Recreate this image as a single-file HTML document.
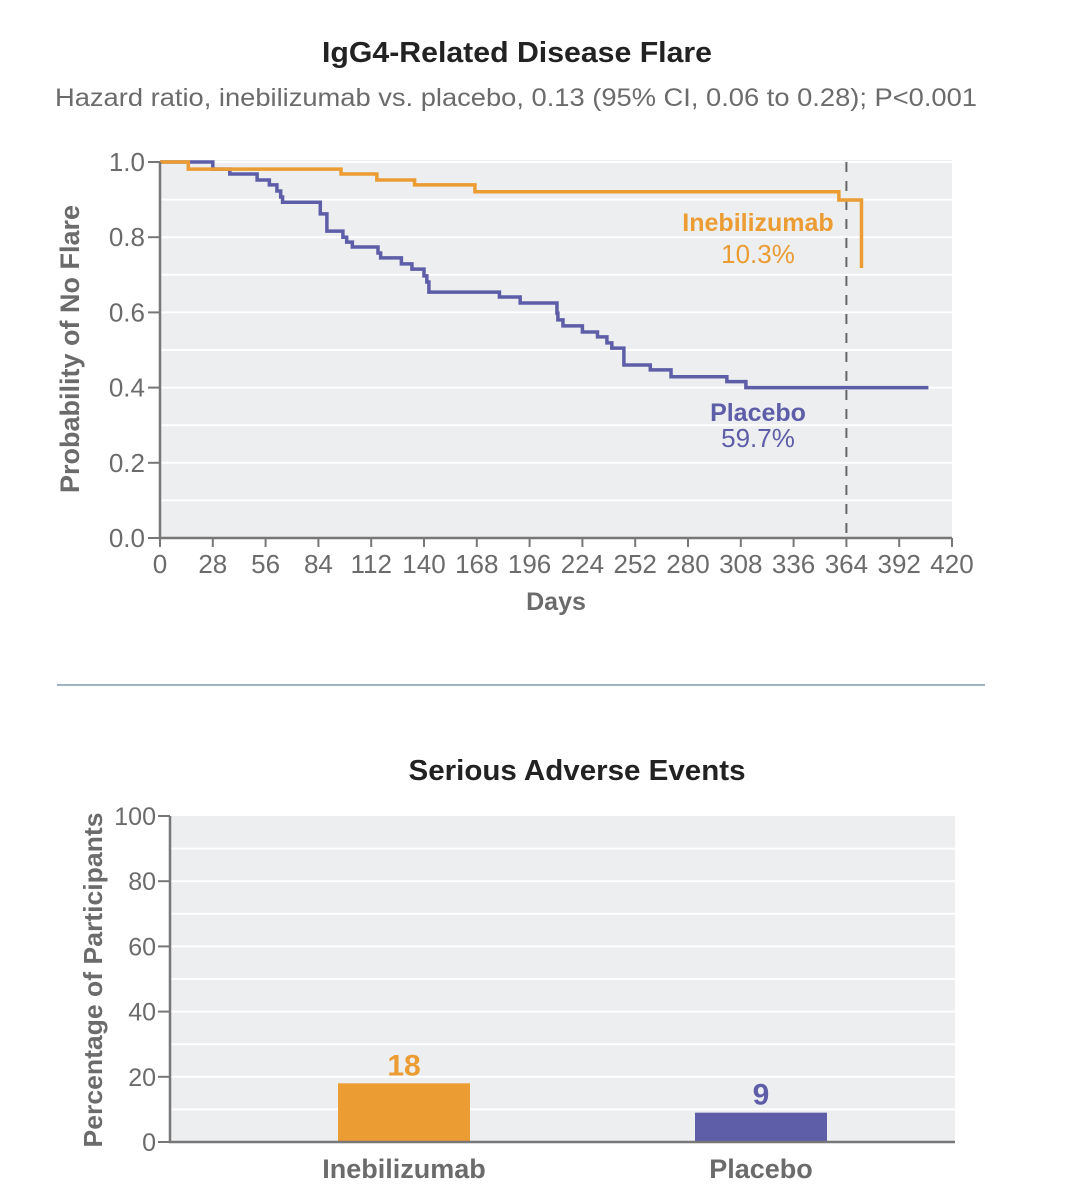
<!DOCTYPE html>
<html><head><meta charset="utf-8"><style>
html,body{margin:0;padding:0;background:#fff;}
svg{display:block;font-family:"Liberation Sans","DejaVu Sans",sans-serif;}
</style></head><body>
<svg id="s" width="1091" height="1200" viewBox="0 0 1091 1200">
<text x="517" y="62" text-anchor="middle" font-size="29" font-weight="bold" fill="#222" textLength="390" lengthAdjust="spacingAndGlyphs">IgG4-Related Disease Flare</text>
<text x="516" y="106" text-anchor="middle" font-size="25" fill="#6b6b6b" textLength="922" lengthAdjust="spacingAndGlyphs">Hazard ratio, inebilizumab vs. placebo, 0.13 (95% CI, 0.06 to 0.28); P&lt;0.001</text>
<g id="km"></g>
<line x1="57" y1="685" x2="985" y2="685" stroke="#9fb3c0" stroke-width="2"/>
<text x="577" y="780" text-anchor="middle" font-size="29" font-weight="bold" fill="#222" textLength="337" lengthAdjust="spacingAndGlyphs">Serious Adverse Events</text>
<g id="bar"></g>
</svg>
<script>
// ---- KM data ----
const xTicks = [0,28,56,84,112,140,168,196,224,252,280,308,336,364,392,420];
const yTicks = [0.0,0.2,0.4,0.6,0.8,1.0];
const inebDays = [0,15,96,115,135,167,360,372];
const inebSurv = [1.0,0.981,0.968,0.952,0.939,0.921,0.899,0.718];
const inebEnd = 372;
const placDays = [0,28,37,51.5,58,62,64,65,85,88.5,97,99,102,115.6,117,128,133.6,140,141.5,142.6,180,191,210.5,211,213.7,224,232,237,239.6,246,260,271,300.6,310.7];
const placSurv = [1.0,0.981,0.968,0.952,0.939,0.923,0.907,0.893,0.862,0.816,0.80,0.787,0.774,0.758,0.745,0.729,0.715,0.697,0.681,0.654,0.641,0.625,0.598,0.58,0.564,0.548,0.535,0.519,0.505,0.46,0.447,0.429,0.416,0.40];
const placEnd = 407.5;
const refDay = 364;
// ---- bar data ----
const barCats = ["Inebilizumab","Placebo"];
const barVals = [18,9];
const barTicks = [0,20,40,60,80,100];

const NS="http://www.w3.org/2000/svg";
function mk(tag,attrs,parent,txt){const e=document.createElementNS(NS,tag);for(const k in attrs)e.setAttribute(k,attrs[k]);if(txt!==undefined)e.textContent=txt;parent.appendChild(e);return e;}

const km=document.getElementById('km');
const X0=160,X1=952,Y0=538,Y1=162;
const xs=d=>X0+(d/420)*(X1-X0);
const ys=v=>Y0-v*(Y0-Y1);
let r=mk('rect',{x:X0,y:Y1-2,width:X1-X0,height:Y0-Y1+2,fill:'#edeef0'},km);


for(let v=0.1;v<1.0;v+=0.1){let g=mk('line',{x1:X0,x2:X1,y1:ys(v),y2:ys(v),stroke:'#fff','stroke-width':2},km);

}
let rl=mk('line',{x1:xs(refDay),x2:xs(refDay),y1:Y1,y2:Y0,stroke:'#666','stroke-width':2,'stroke-dasharray':'10,9'},km);


function stepPath(days,surv,end){let d='M'+xs(days[0])+','+ys(surv[0]);for(let i=1;i<days.length;i++){d+=' H'+xs(days[i])+' V'+ys(surv[i]);}d+=' H'+xs(end);return d;}
let pl=mk('path',{d:stepPath(placDays,placSurv,placEnd),fill:'none',stroke:'#5e5ea8','stroke-width':3.5},km);


let id=inebDays.slice(0,-1),is=inebSurv.slice(0,-1);
let ipath=stepPath(id,is,inebDays[inebDays.length-1])+' V'+ys(inebSurv[inebSurv.length-1]);
let il=mk('path',{d:ipath,fill:'none',stroke:'#eb9c33','stroke-width':3.5},km);


let ax=mk('path',{d:`M${X0},${Y1} V${Y0} H${X1}`,fill:'none',stroke:'#777','stroke-width':2.5},km);


xTicks.forEach(t=>{mk('line',{x1:xs(t),x2:xs(t),y1:Y0,y2:Y0+9,stroke:'#777','stroke-width':2},km);
let tl=mk('text',{x:xs(t),y:573,'text-anchor':'middle','font-size':26,fill:'#6b6b6b'},km,String(t));

});
yTicks.forEach(t=>{mk('line',{x1:X0-12,x2:X0,y1:ys(t),y2:ys(t),stroke:'#777','stroke-width':2},km);
let tl=mk('text',{x:145,y:ys(t)+9,'text-anchor':'end','font-size':26,fill:'#6b6b6b'},km,t.toFixed(1));

});
let xt=mk('text',{x:556,y:610,'text-anchor':'middle','font-size':25,'font-weight':'bold',fill:'#6b6b6b'},km,'Days');


let yt=mk('text',{x:0,y:0,transform:'translate(79,349) rotate(-90)','text-anchor':'middle','font-size':27,'font-weight':'bold',fill:'#6b6b6b',textLength:288,lengthAdjust:'spacingAndGlyphs'},km,'Probability of No Flare');


let a1=mk('text',{x:758,y:231,'text-anchor':'middle','font-size':25,'font-weight':'bold',fill:'#eb9c33'},km,'Inebilizumab');


let a2=mk('text',{x:758,y:263,'text-anchor':'middle','font-size':26,fill:'#eb9c33'},km,'10.3%');


let a3=mk('text',{x:758,y:421,'text-anchor':'middle','font-size':25,'font-weight':'bold',fill:'#5e5ea8'},km,'Placebo');


let a4=mk('text',{x:758,y:447,'text-anchor':'middle','font-size':26,fill:'#5e5ea8'},km,'59.7%');



// ---- bar chart ----
const bar=document.getElementById('bar');
const BX0=170,BX1=955,BY0=1142,BY1=816;
const by=v=>BY0-(v/100)*(BY0-BY1);
const centers=[404,761];
let br=mk('rect',{x:BX0,y:BY1,width:BX1-BX0,height:BY0-BY1,fill:'#edeef0'},bar);


for(let v=10;v<100;v+=10){let g=mk('line',{x1:BX0,x2:BX1,y1:by(v),y2:by(v),stroke:'#fff','stroke-width':2},bar);

}
const colors=['#eb9c33','#5e5ea8'];
barCats.forEach((c,i)=>{
let b=mk('rect',{x:centers[i]-66,y:by(barVals[i]),width:132,height:BY0-by(barVals[i]),fill:colors[i]},bar);


let v=mk('text',{x:centers[i],y:by(barVals[i])-8,'text-anchor':'middle','font-size':30,'font-weight':'bold',fill:colors[i]},bar,String(barVals[i]));


let l=mk('text',{x:centers[i],y:1178,'text-anchor':'middle','font-size':27,'font-weight':'bold',fill:'#6b6b6b'},bar,c);


});
let bax=mk('path',{d:`M${BX0},${BY1} V${BY0} H${BX1}`,fill:'none',stroke:'#777','stroke-width':2.5},bar);


barTicks.forEach(t=>{mk('line',{x1:BX0-12,x2:BX0,y1:by(t),y2:by(t),stroke:'#777','stroke-width':2},bar);
let tl=mk('text',{x:156,y:by(t)+9,'text-anchor':'end','font-size':25,fill:'#6b6b6b'},bar,String(t));

});
let byt=mk('text',{x:0,y:0,transform:'translate(102,980) rotate(-90)','text-anchor':'middle','font-size':26,'font-weight':'bold',fill:'#6b6b6b',textLength:335,lengthAdjust:'spacingAndGlyphs'},bar,'Percentage of Participants');


</script>
</body></html>
